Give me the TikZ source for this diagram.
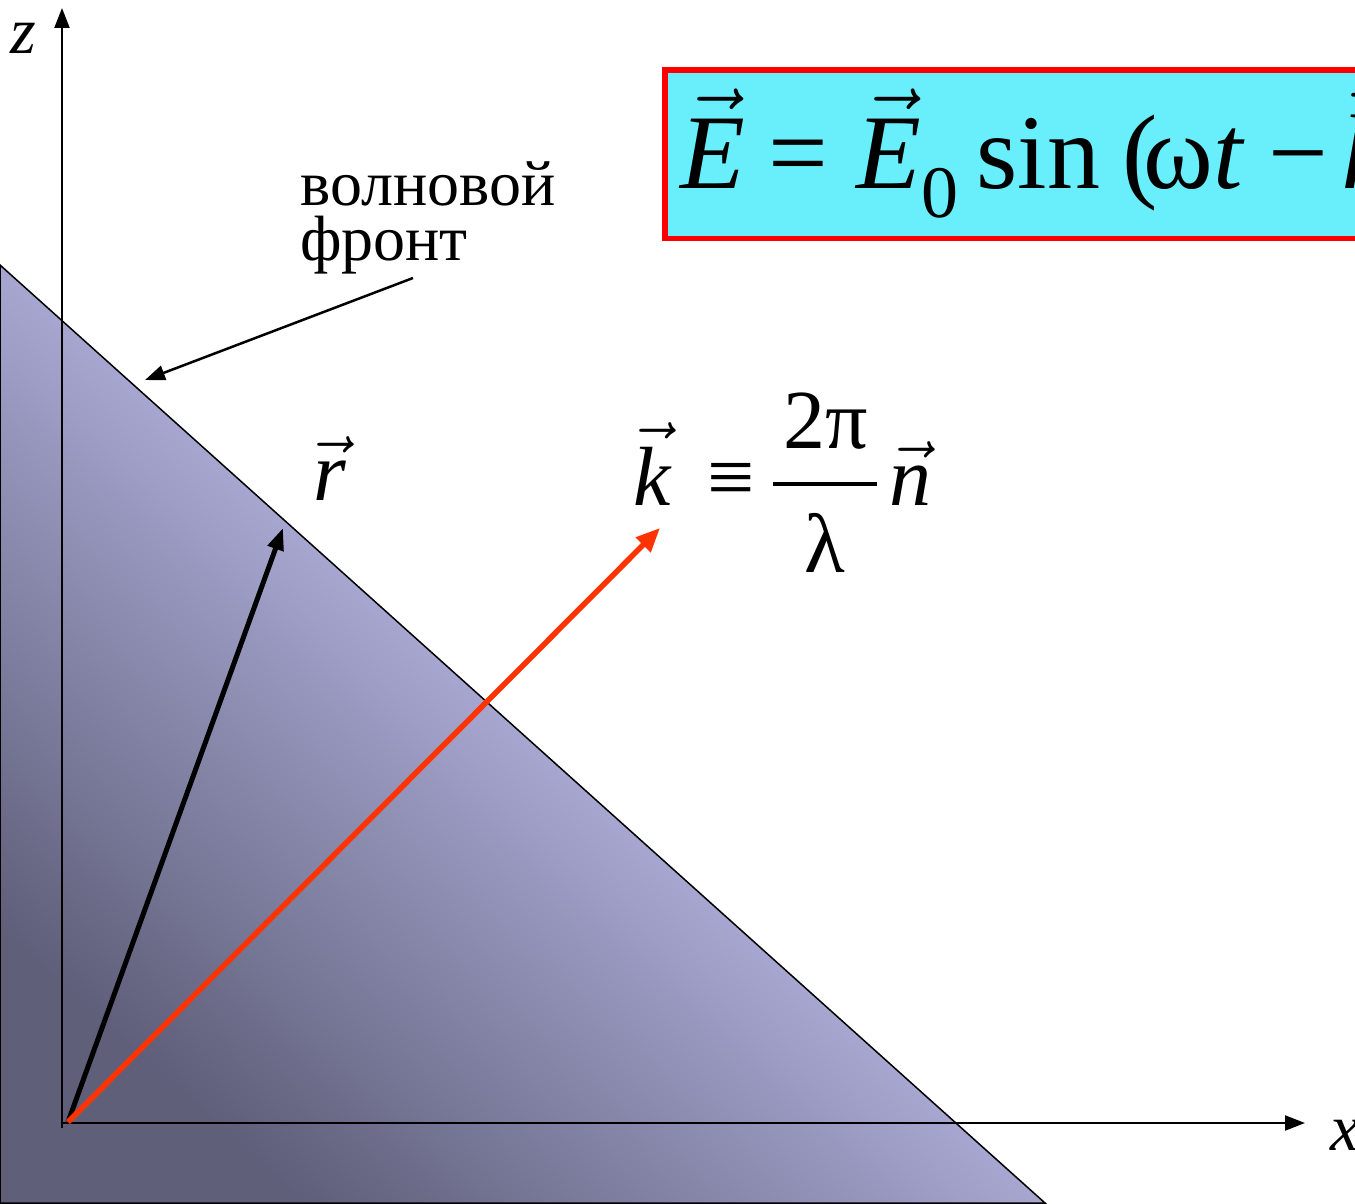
\RequirePackage{fix-cm}
\documentclass[tikz,border=0pt]{standalone}
\usepackage{amsmath}
\usepackage{fontspec}
\setmainfont{Liberation Serif}
\usetikzlibrary{arrows.meta,positioning}

\definecolor{frontdark}{HTML}{5F5F7A}
\definecolor{frontlight}{HTML}{A6A6D0}
\definecolor{kred}{HTML}{FF3300}
\definecolor{boxcyan}{HTML}{69EFFC}
\pgfdeclarehorizontalshading{frontshade}{100bp}{color(0bp)=(frontdark); color(25bp)=(frontdark); color(50bp)=(frontlight); color(100bp)=(frontlight)}

\newcommand{\vv}[1]{\ensuremath{\vec{\hbox{\itshape #1}}}}

\begin{document}
\begin{tikzpicture}[x=1pt, y=-1pt,
    axis/.style={line width=2.2pt, -{Triangle[length=20pt, width=15pt]}},
    vecr/.style={line width=5pt, -{Triangle[length=22pt, width=16pt]}},
    veck/.style={kred, line width=5.5pt, -{Triangle[length=24pt, width=20pt]}},
    pointer/.style={line width=2.5pt, -{Triangle[length=20pt, width=15pt]}},
    lbl/.style={inner sep=0pt, anchor=base west}]
    \useasboundingbox (0,0) rectangle (1355,1204);
    \begin{scope}
        \clip (0,0) rectangle (1355,1204);
        % wave front plane
        \draw[line width=1.5pt, shading=frontshade, shading angle=48] (0,265) -- (1045,1203) -- (0,1203) -- cycle;
        % formula box
        \node[draw=red, line width=5.5pt, fill=boxcyan, anchor=north west, minimum height=168pt, minimum width=720pt, inner sep=0pt] (wavebox) at (662,67.5) {};
        \node[lbl, font=\fontsize{106}{106}\selectfont] (wave) at (680,188)
            {\vv{E}\hspace{24pt}=\hspace{28pt}\vv{E}\raisebox{-29pt}{\fontsize{74}{74}\selectfont 0}\hspace{18pt}sin\hspace{22pt}(\hspace{-14pt}ω\textit{t}\hspace{24pt}−\hspace{14pt}\vv{k}\vv{r})};
    \end{scope}

    % axes
    \coordinate (O) at (62,1123);
    \coordinate (ztip) at (62,8);
    \coordinate (xtip) at (1305,1123);
    \draw[axis] (62,1128) -- (ztip);
    \draw[axis] (O) -- (xtip);
    \node[lbl, font=\fontsize{66}{66}\selectfont\itshape] (zlbl) at (10,54) {z};
    \node[lbl, font=\fontsize{66}{66}\selectfont\itshape] (xlbl) at (1330,1150) {x};

    % vectors
    \coordinate (start) at (68,1122);
    \coordinate (rtip) at (283,528);
    \coordinate (ktip) at (660,528);
    \draw[vecr] (start) -- (rtip);
    \draw[veck] (start) -- (ktip);
    \node[lbl, font=\fontsize{84}{84}\selectfont] (rlbl) at (313,500) {\vv{r}};
    \node[lbl, font=\fontsize{84}{84}\selectfont] (klbl) at (633,505)
        {\vv{k}\hspace{37pt}≡\hspace{17pt}$\genfrac{}{}{4.5pt}{0}{\hbox{\hspace{10pt}2π\hspace{10pt}}}{\hbox{\lower10pt\hbox{λ}}}$\hspace{11pt}\vv{n}};

    % label of the front
    \node[lbl, align=left, font=\fontsize{64}{55}\selectfont] (front) at (300,260) {волновой\\фронт};
    \coordinate (ptr) at (413,278);
    \coordinate (hit) at (145,380);
    \draw[pointer] (ptr) -- (hit);
\end{tikzpicture}
\end{document}
